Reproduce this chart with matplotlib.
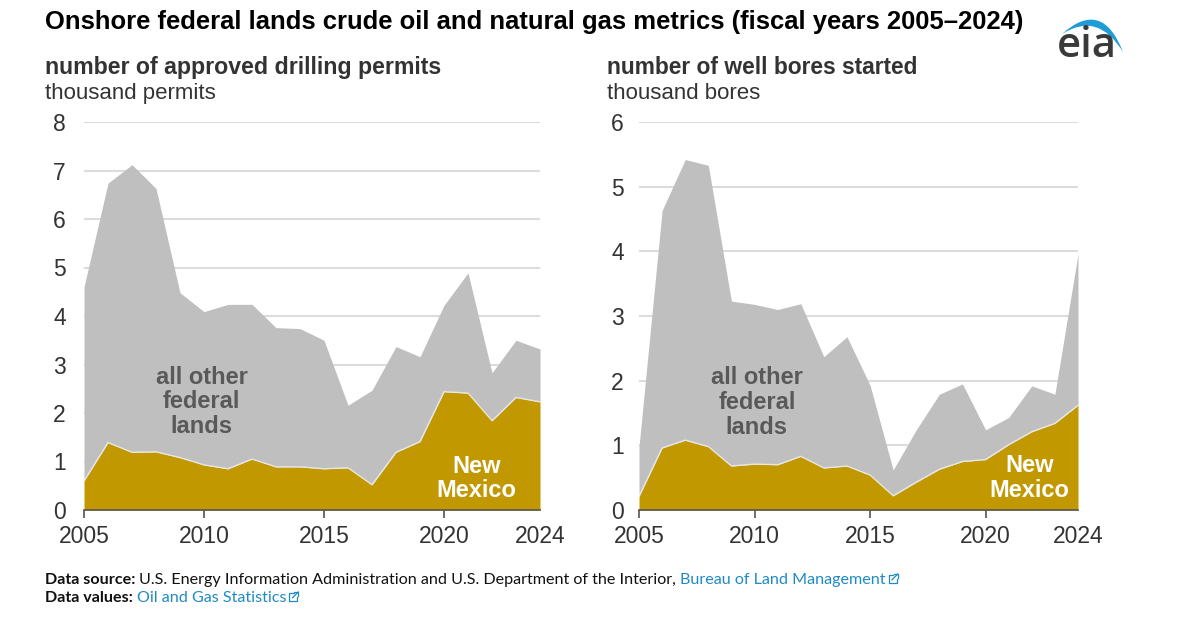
import matplotlib
matplotlib.use("Agg")
import matplotlib.pyplot as plt
from matplotlib.path import Path
from matplotlib.patches import PathPatch
from matplotlib.lines import Line2D

# ---------------- data ----------------
years = list(range(2005, 2025))
permits_total = [4.60, 6.74, 7.12, 6.63, 4.48, 4.09, 4.24, 4.24, 3.76, 3.74,
                 3.50, 2.16, 2.47, 3.37, 3.16, 4.22, 4.89, 2.83, 3.50, 3.32]
permits_nm = [0.60, 1.39, 1.19, 1.20, 1.08, 0.93, 0.85, 1.05, 0.89, 0.89,
              0.85, 0.87, 0.52, 1.19, 1.41, 2.44, 2.41, 1.84, 2.32, 2.23]
bores_total = [0.98, 4.63, 5.42, 5.33, 3.23, 3.18, 3.10, 3.19, 2.37, 2.68,
               1.93, 0.62, 1.24, 1.79, 1.95, 1.24, 1.43, 1.92, 1.79, 3.96]
bores_nm = [0.21, 0.96, 1.08, 0.98, 0.68, 0.71, 0.70, 0.83, 0.65, 0.68,
            0.54, 0.22, 0.43, 0.63, 0.75, 0.78, 1.01, 1.21, 1.34, 1.62]
x_ticks = [2005, 2010, 2015, 2020, 2024]
x_tick_labels = ["2005", "2010", "2015", "2020", "2024"]

title = "Onshore federal lands crude oil and natural gas metrics (fiscal years 2005\u20132024)"
left_sub = "number of approved drilling permits"
left_unit = "thousand permits"
right_sub = "number of well bores started"
right_unit = "thousand bores"
other_label = "all other\nfederal\nlands"
nm_label = "New\nMexico"

GOLD = "#C29800"
GRAY = "#BFBFBF"
GRID = "#DCDCDC"
TXT = "#333333"

W, H = 1200, 621
plt.rcParams["font.family"] = ["Liberation Sans", "DejaVu Sans"]
fig = plt.figure(figsize=(W / 100, H / 100), dpi=100)
renderer = fig.canvas.get_renderer()


def fx(px):
    return px / W


def fy(py):
    return 1 - py / H


def ftext(px, py, s, target_w=None, **kw):
    t = fig.text(fx(px), fy(py), s, transform=fig.transFigure, **kw)
    if target_w is not None:
        bb = t.get_window_extent(renderer)
        t.set_fontsize(t.get_fontsize() * target_w / bb.width)
    return t


def make_panel(rect, total, nm, ymax, pad_y, other_xy, nm_xy):
    ax = fig.add_axes(rect)
    ax.fill_between(years, 0, nm, color=GOLD, lw=0, zorder=2)
    ax.fill_between(years, nm, total, color=GRAY, lw=0, zorder=2)
    ax.plot(years, nm, color="white", lw=1.0, alpha=0.6, zorder=3)
    ax.set_xlim(2005, 2024)
    ax.set_ylim(0, ymax)
    for v in range(1, ymax + 1):
        ax.axhline(v, color=GRID, lw=1.5, zorder=1)
    for s in ["top", "right", "left"]:
        ax.spines[s].set_visible(False)
    ax.spines["bottom"].set_color("#555555")
    ax.spines["bottom"].set_linewidth(1.2)
    ax.spines["bottom"].set_zorder(4)
    ax.set_yticks(range(0, ymax + 1))
    ax.tick_params(axis="y", length=0, pad=pad_y, labelsize=16.5, labelcolor=TXT)
    ax.set_xticks(x_ticks)
    ax.set_xticklabels(x_tick_labels)
    ax.tick_params(axis="x", direction="out", length=6, width=1.2,
                   color="#555555", pad=5, labelsize=16.5, labelcolor=TXT)
    ax.xaxis.get_major_ticks()[-1].tick1line.set_visible(False)
    ax.text(other_xy[0], other_xy[1], other_label, ha="center", va="center",
            fontsize=17, fontweight="bold", color="#595959",
            linespacing=1.1, zorder=5)
    ax.text(nm_xy[0], nm_xy[1], nm_label, ha="center", va="center",
            fontsize=17, fontweight="bold", color="white",
            linespacing=1.1, zorder=5)
    return ax


# left panel: x 84..540 px, y 122..510 px
make_panel([fx(84), fy(510), (540 - 84) / W, (510 - 122) / H],
           permits_total, permits_nm, 8, 13, (2009.9, 2.23), (2021.35, 0.65))
# right panel: x 639..1078 px
make_panel([fx(639), fy(510), (1078 - 639) / W, (510 - 122) / H],
           bores_total, bores_nm, 6, 11, (2010.1, 1.66), (2021.9, 0.49))

# ---------------- titles ----------------
ftext(45, 29, title, target_w=980, fontsize=17, fontweight="bold",
      color="black", va="baseline", ha="left")
ftext(45, 74, left_sub, target_w=397, fontsize=16, fontweight="bold",
      color=TXT, va="baseline", ha="left")
ftext(45, 99, left_unit, fontsize=16, color=TXT, va="baseline", ha="left")
ftext(607, 74, right_sub, target_w=311, fontsize=16, fontweight="bold",
      color=TXT, va="baseline", ha="left")
ftext(607, 99, right_unit, fontsize=16, color=TXT, va="baseline", ha="left")

# ---------------- footer ----------------
BLUE = "#1F8AC6"
FOOT_FONT = ["Lato", "DejaVu Sans"]


def link_icon(px, py):
    # small external-link icon: open box and arrow, pixel coords (y down)
    s = 8
    pts = [(px + s * 0.55, py - s), (px, py - s), (px, py), (px + s, py), (px + s, py - s * 0.45)]
    fig.add_artist(Line2D([fx(p[0]) for p in pts], [fy(p[1]) for p in pts],
                          color=BLUE, lw=0.9, transform=fig.transFigure))
    fig.add_artist(Line2D([fx(px + s * 0.4), fx(px + s + 1)], [fy(py - s * 0.4), fy(py - s - 1)],
                          color=BLUE, lw=0.9, transform=fig.transFigure))
    fig.add_artist(Line2D([fx(px + s * 0.6), fx(px + s + 1), fx(px + s + 1)],
                          [fy(py - s - 1), fy(py - s - 1), fy(py - s * 0.6)],
                          color=BLUE, lw=0.9, transform=fig.transFigure))


fs_foot = 11.6
end1 = 45
for s, wgt, col in [("Data source: ", "bold", "#111111"),
                    ("U.S. Energy Information Administration and U.S. Department of the Interior, ", "normal", "#111111"),
                    ("Bureau of Land Management", "normal", BLUE)]:
    t = ftext(end1, 584, s, family=FOOT_FONT, fontsize=fs_foot, fontweight=wgt,
              color=col, va="baseline", ha="left")
    end1 += t.get_window_extent(renderer).width
link_icon(end1 + 3, 583)
end2 = 45
for s, wgt, col in [("Data values: ", "bold", "#111111"),
                    ("Oil and Gas Statistics", "normal", BLUE)]:
    t = ftext(end2, 602, s, family=FOOT_FONT, fontsize=fs_foot, fontweight=wgt,
              color=col, va="baseline", ha="left")
    end2 += t.get_window_extent(renderer).width
link_icon(end2 + 3, 601)

# ---------------- eia logo ----------------
ftext(1087, 57, "eia", target_w=60, fontsize=27, color="#3A3A3A", ha="center", va="baseline",
      family=["Open Sans", "DejaVu Sans"], fontweight="semibold")
verts = [(1062, 34), (1102, -2), (1123, 52), (1098, 11), (1062, 34)]
verts_fig = [(fx(a), fy(b)) for a, b in verts]
codes = [Path.MOVETO, Path.CURVE3, Path.CURVE3, Path.CURVE3, Path.CURVE3]
fig.add_artist(PathPatch(Path(verts_fig, codes), facecolor="#1E9CD8", edgecolor="none",
                         transform=fig.transFigure))

fig.savefig("out.png", dpi=100)
